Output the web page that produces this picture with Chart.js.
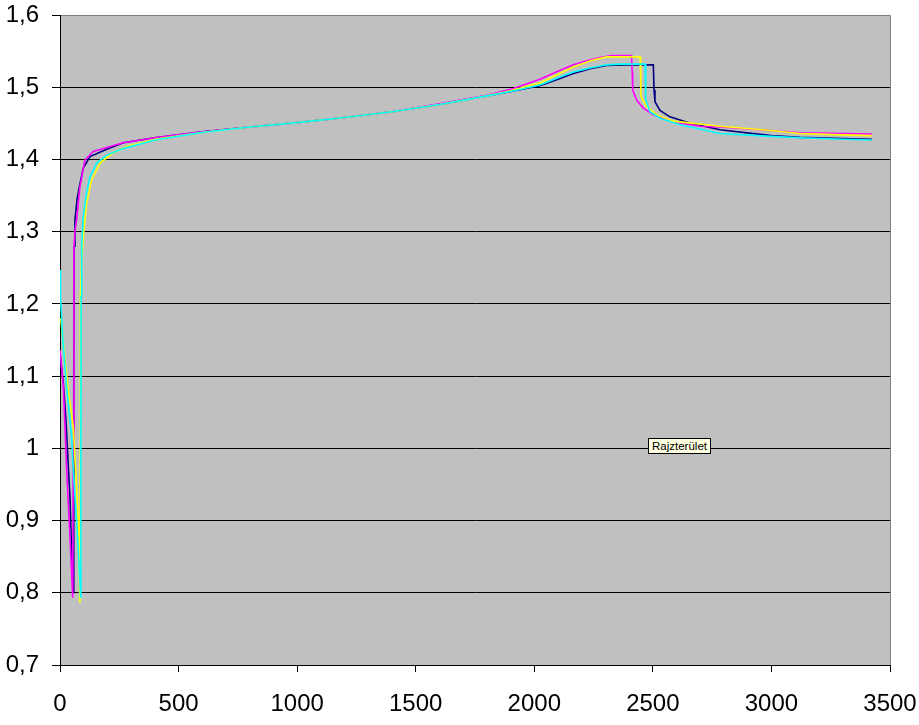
<!DOCTYPE html>
<html>
<head>
<meta charset="utf-8">
<script src="https://cdn.jsdelivr.net/npm/chart.js@4.4.1/dist/chart.umd.min.js"></script>
<style>
  body { margin: 0; background: #fff; }
  #wrap { position: relative; width: 919px; height: 725px; }
  #hint {
    position: absolute; left: 648px; top: 438px;
    height: 14px; padding: 0 3px;
    background: #ffffe1; border: 1px solid #000;
    font: 11.5px "Liberation Sans", Arial, sans-serif; line-height: 14px;
    color: #000; white-space: nowrap;
  }
</style>
</head>
<body>
<div id="wrap">
  <canvas id="chartCanvas" width="919" height="725"></canvas>
  <div id="hint">Rajzterület</div>
</div>
<script>
// x axis ticks and y axis ticks
const xTicks = [0, 500, 1000, 1500, 2000, 2500, 3000, 3500];
const yTicks = [0.7, 0.8, 0.9, 1.0, 1.1, 1.2, 1.3, 1.4, 1.5, 1.6];

// series 1 (navy)
const navyX = [0, 14, 25, 35, 42, 49, 56, 58, 60, 63, 72, 81.5, 98, 126.5, 197, 267, 400, 590, 800, 1000, 1200, 1400, 1600, 1800, 1900, 2024, 2100, 2165, 2240, 2305, 2376, 2502, 2505, 2509, 2530, 2572, 2657, 2783, 3000, 3120, 3300, 3423];
const navyY = [1.13, 1.09, 1.04, 0.975, 0.933, 0.855, 0.80, 1.10, 1.28, 1.316, 1.345, 1.362, 1.388, 1.404, 1.414, 1.423, 1.430, 1.438, 1.445, 1.451, 1.458, 1.466, 1.476, 1.488, 1.494, 1.502, 1.511, 1.519, 1.526, 1.530, 1.531, 1.531, 1.496, 1.480, 1.468, 1.459, 1.450, 1.441, 1.433, 1.4306, 1.429, 1.428];

// series 2 (magenta)
const magentaX = [0, 14, 21, 28, 42, 53.5, 56, 59, 63, 70, 84, 105, 140, 267, 400, 590, 800, 1000, 1200, 1400, 1600, 1800, 1900, 2024, 2100, 2165, 2225, 2277, 2326, 2410, 2413, 2415, 2432, 2460, 2502, 2586, 2699, 2783, 3000, 3120, 3300, 3423];
const magentaY = [1.136, 1.085, 1.03, 0.97, 0.878, 0.793, 1.0, 1.28, 1.30, 1.316, 1.362, 1.399, 1.411, 1.423, 1.430, 1.438, 1.445, 1.451, 1.458, 1.466, 1.477, 1.489, 1.497, 1.511, 1.522, 1.531, 1.537, 1.541, 1.544, 1.544, 1.52, 1.496, 1.482, 1.471, 1.462, 1.452, 1.446, 1.445, 1.440, 1.437, 1.436, 1.435];

// series 3 (yellow)
const yellowX = [3, 17, 35, 56, 70, 77, 84, 85, 86, 91.5, 101, 112.5, 133.6, 169, 224, 281, 400, 590, 800, 1000, 1200, 1400, 1600, 1800, 1900, 2024, 2100, 2165, 2240, 2305, 2446, 2449, 2450, 2474, 2516, 2586, 2783, 3000, 3120, 3300, 3423];
const yellowY = [1.18, 1.136, 1.08, 1.03, 0.947, 0.90, 0.786, 1.0, 1.21, 1.265, 1.302, 1.34, 1.372, 1.395, 1.409, 1.418, 1.428, 1.437, 1.445, 1.451, 1.458, 1.466, 1.476, 1.488, 1.495, 1.506, 1.518, 1.528, 1.537, 1.542, 1.542, 1.51, 1.487, 1.473, 1.462, 1.453, 1.446, 1.440, 1.436, 1.434, 1.433];

// series 4 (cyan)
const cyanX = [0, 2, 11, 28, 49, 56, 70, 81.6, 87, 88, 89, 91.5, 98, 112.5, 126.5, 154.6, 197, 267, 400, 590, 800, 1000, 1200, 1400, 1600, 1800, 1900, 2024, 2100, 2165, 2240, 2305, 2362, 2467, 2469, 2471, 2488, 2530, 2615, 2783, 3000, 3120, 3300, 3423];
const cyanY = [1.247, 1.21, 1.155, 1.085, 1.016, 0.97, 0.90, 0.832, 0.794, 1.0, 1.21, 1.279, 1.321, 1.355, 1.376, 1.395, 1.406, 1.415, 1.427, 1.437, 1.445, 1.451, 1.458, 1.466, 1.476, 1.488, 1.494, 1.503, 1.513, 1.521, 1.527, 1.531, 1.532, 1.532, 1.505, 1.482, 1.466, 1.457, 1.448, 1.436, 1.432, 1.430, 1.428, 1.427];

function toPoints(xs, ys) {
  return xs.map(function (x, i) {
    return { x: x, y: ys[i] };
  });
}

function lineSet(label, xs, ys, color) {
  return {
    label: label,
    data: toPoints(xs, ys),
    borderColor: color,
    borderWidth: 1.6,
    pointRadius: 0,
    showLine: true,
    tension: 0,
    fill: false,
  };
}

// grey plot area with grey top/right frame (Excel style)
const plotArea = {
  id: "plotArea",
  beforeDraw(chart) {
    const a = chart.chartArea;
    const c = chart.ctx;
    c.save();
    c.fillStyle = "#c0c0c0";
    c.fillRect(a.left, a.top, a.right - a.left, a.bottom - a.top);
    c.strokeStyle = "#808080";
    c.lineWidth = 1;
    c.beginPath();
    c.moveTo(a.left, a.top + 0.5);
    c.lineTo(a.right + 0.5, a.top + 0.5);
    c.lineTo(a.right + 0.5, a.bottom);
    c.stroke();
    c.restore();
  },
};

function commaLabel(v) {
  const r = Math.round(v * 10) / 10;
  return String(r).replace(".", ",");
}

const ctx = document.getElementById("chartCanvas").getContext("2d");

new Chart(ctx, {
  type: "scatter",
  data: {
    // first dataset is drawn on top
    datasets: [
      lineSet("cyan", cyanX, cyanY, "#00ffff"),
      lineSet("yellow", yellowX, yellowY, "#ffff00"),
      lineSet("magenta", magentaX, magentaY, "#ff00ff"),
      lineSet("navy", navyX, navyY, "#000080"),
    ],
  },
  options: {
    responsive: false,
    animation: false,
    layout: { padding: { top: 15, right: 29, left: 0, bottom: 0 } },
    plugins: {
      legend: { display: false },
      tooltip: { enabled: false },
    },
    scales: {
      x: {
        type: "linear",
        min: xTicks[0],
        max: xTicks[xTicks.length - 1],
        afterBuildTicks: function (scale) {
          scale.ticks = xTicks.map(function (v) { return { value: v }; });
        },
        afterFit: function (scale) {
          scale.height = 60;
          scale.paddingLeft = 0;
          scale.paddingRight = 0;
        },
        grid: {
          drawOnChartArea: false,
          tickLength: 7,
          color: "#000",
          tickColor: "#000",
        },
        border: { color: "#000", width: 1 },
        ticks: {
          color: "#000",
          padding: 18,
          maxRotation: 0,
          callback: function (v) { return String(v); },
          font: { family: "'Liberation Sans', Arial, sans-serif", size: 24 },
        },
      },
      y: {
        min: yTicks[0],
        max: yTicks[yTicks.length - 1],
        afterBuildTicks: function (scale) {
          scale.ticks = yTicks.map(function (v) { return { value: v }; });
        },
        afterFit: function (scale) {
          scale.width = 60;
          scale.paddingTop = 0;
          scale.paddingBottom = 0;
        },
        grid: {
          tickLength: 8,
          tickColor: "#000",
          color: function (c) {
            return c.tick && Math.abs(c.tick.value - 1.6) < 1e-6 ? "rgba(0,0,0,0)" : "#000";
          },
        },
        border: { color: "#000", width: 1 },
        ticks: {
          color: "#000",
          padding: 13,
          callback: function (v) { return commaLabel(v); },
          font: { family: "'Liberation Sans', Arial, sans-serif", size: 24 },
        },
      },
    },
  },
  plugins: [plotArea],
});
</script>
</body>
</html>
